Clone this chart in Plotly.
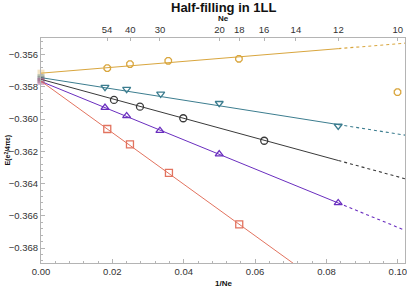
import plotly.graph_objects as go

# Data
ne_ticks = [54, 40, 30, 20, 18, 16, 14, 12, 10]

gold_x = [0.01857, 0.02493, 0.03566, 0.05546]
gold_y = [-0.356829, -0.356579, -0.356374, -0.356249]
gold_out_x = [0.0999]
gold_out_y = [-0.358324]

teal_x = [0.01793, 0.0240, 0.03353, 0.04994, 0.08328]
teal_y = [-0.358012, -0.358137, -0.35843, -0.35901, -0.360424]

black_x = [0.02045, 0.02773, 0.03986, 0.06255]
black_y = [-0.358804, -0.359221, -0.359944, -0.36134]

purple_x = [0.01793, 0.0240, 0.03333, 0.04994, 0.08328]
purple_y = [-0.359283, -0.3598, -0.360716, -0.362168, -0.365202]

red_x = [0.01857, 0.02493, 0.03585, 0.05555]
red_y = [-0.36061, -0.361563, -0.363333, -0.36653]

# linear fits (intercept, slope)
fit_names = ["gold", "teal", "black", "purple", "red"]
fit_intercepts = [-0.357143, -0.357420, -0.357526, -0.357657, -0.357640]
fit_slopes = [0.01826, -0.0350, -0.0605, -0.0906, -0.1600]

colors = {"gold": "#D9A63E", "teal": "#3C7D8F", "black": "#3a3a3a",
          "purple": "#6A2EBF", "red": "#E2735F"}
symbols = {"gold": "octagon-open", "teal": "triangle-down-open", "black": "circle-open",
           "purple": "triangle-up-open", "red": "square-open"}
series = {"gold": (gold_x, gold_y), "teal": (teal_x, teal_y), "black": (black_x, black_y),
          "purple": (purple_x, purple_y), "red": (red_x, red_y)}

XMAX = 0.102
XSOLID = 1 / 12
FONT = "Liberation Sans, Arial, sans-serif"

fig = go.Figure()

for name, b, m in zip(fit_names, fit_intercepts, fit_slopes):
    c = colors[name]
    fig.add_trace(go.Scatter(x=[0, XSOLID], y=[b, b + m * XSOLID], mode="lines",
                             line=dict(color=c, width=1), showlegend=False, hoverinfo="skip"))
    fig.add_trace(go.Scatter(x=[XSOLID, XMAX], y=[b + m * XSOLID, b + m * XMAX], mode="lines",
                             line=dict(color=c, width=1.1, dash="dot"), showlegend=False,
                             hoverinfo="skip"))
    # faint extrapolated value at 1/Ne = 0
    fig.add_trace(go.Scatter(x=[0], y=[b], mode="markers", cliponaxis=False,
                             marker=dict(symbol="square", size=7, color=c, opacity=0.3),
                             showlegend=False))

for name in fit_names:
    xs, ys = series[name]
    fig.add_trace(go.Scatter(x=xs, y=ys, mode="markers",
                             marker=dict(symbol=symbols[name], size=7, color=colors[name],
                                         line=dict(width=1.3, color=colors[name])),
                             showlegend=False))

fig.add_trace(go.Scatter(x=gold_out_x, y=gold_out_y, mode="markers", cliponaxis=False,
                         marker=dict(symbol="octagon-open", size=7, color=colors["gold"],
                                     line=dict(width=1.3, color=colors["gold"])),
                         showlegend=False))

# invisible trace for top axis
fig.add_trace(go.Scatter(x=[0.05], y=[-0.36], xaxis="x2", mode="markers",
                         marker=dict(opacity=0), showlegend=False, hoverinfo="skip"))

frame = "#b4b4b4"
tickfont = dict(family=FONT, size=9.5, color="#333333")

xt = [0, 0.02, 0.04, 0.06, 0.08, 0.10]
yt = [-0.356, -0.358, -0.360, -0.362, -0.364, -0.366, -0.368]

fig.update_layout(
    width=407, height=288,
    margin=dict(l=41, r=2, t=38, b=25, autoexpand=False),
    plot_bgcolor="white", paper_bgcolor="white",
    xaxis=dict(range=[0, XMAX], tickvals=xt, ticktext=[f"{v:.2f}" for v in xt],
               ticks="inside", ticklen=4, tickcolor=frame, showline=True, linecolor=frame,
               linewidth=1, showgrid=False, zeroline=False, tickfont=tickfont,
               ticklabeloverflow="allow", automargin=False,
               minor=dict(dtick=0.004, ticks="inside", ticklen=2, tickcolor=frame)),
    xaxis2=dict(range=[0, XMAX], overlaying="x", side="top", anchor="y",
                tickvals=[1 / n for n in ne_ticks], ticktext=[str(n) for n in ne_ticks],
                ticks="inside", ticklen=3, tickcolor=frame, showline=True, linecolor=frame,
                linewidth=1, showgrid=False, zeroline=False, tickfont=tickfont,
                ticklabeloverflow="allow", automargin=False),
    yaxis=dict(range=[-0.36893, -0.35496], tickvals=yt,
               ticktext=[f"\u2212{abs(v):.3f}" for v in yt],
               ticks="inside", ticklen=4, tickcolor=frame, showline=True, linecolor=frame,
               linewidth=1, mirror=True, showgrid=False, zeroline=False, tickfont=tickfont,
               automargin=False,
               minor=dict(dtick=0.0004, ticks="inside", ticklen=2, tickcolor=frame)),
    annotations=[
        dict(text="<b>Half-filling in 1LL</b>", xref="paper", yref="paper", x=0.5,
             y=1 + 31 / 225, xanchor="center", yanchor="middle", showarrow=False,
             font=dict(family=FONT, size=13, color="#111111")),
        dict(text="<b>Ne</b>", xref="paper", yref="paper", x=0.5, y=1 + 19 / 225,
             xanchor="center", yanchor="middle", showarrow=False,
             font=dict(family=FONT, size=8, color="#111111")),
        dict(text="<b>1/Ne</b>", xref="paper", yref="paper", x=0.5, y=-20 / 225,
             xanchor="center", yanchor="middle", showarrow=False,
             font=dict(family=FONT, size=8, color="#111111")),
        dict(text="<b>E(e<sup>2</sup>/4\u03c0\u03b5)</b>", xref="paper", yref="paper",
             x=-33 / 364, y=0.5, xanchor="center", yanchor="middle", textangle=-90,
             showarrow=False, font=dict(family=FONT, size=7, color="#111111")),
    ],
)

fig.write_html("out.html", config={"displayModeBar": False},
               post_script="document.body.style.margin='0';document.body.style.overflow='hidden';")
